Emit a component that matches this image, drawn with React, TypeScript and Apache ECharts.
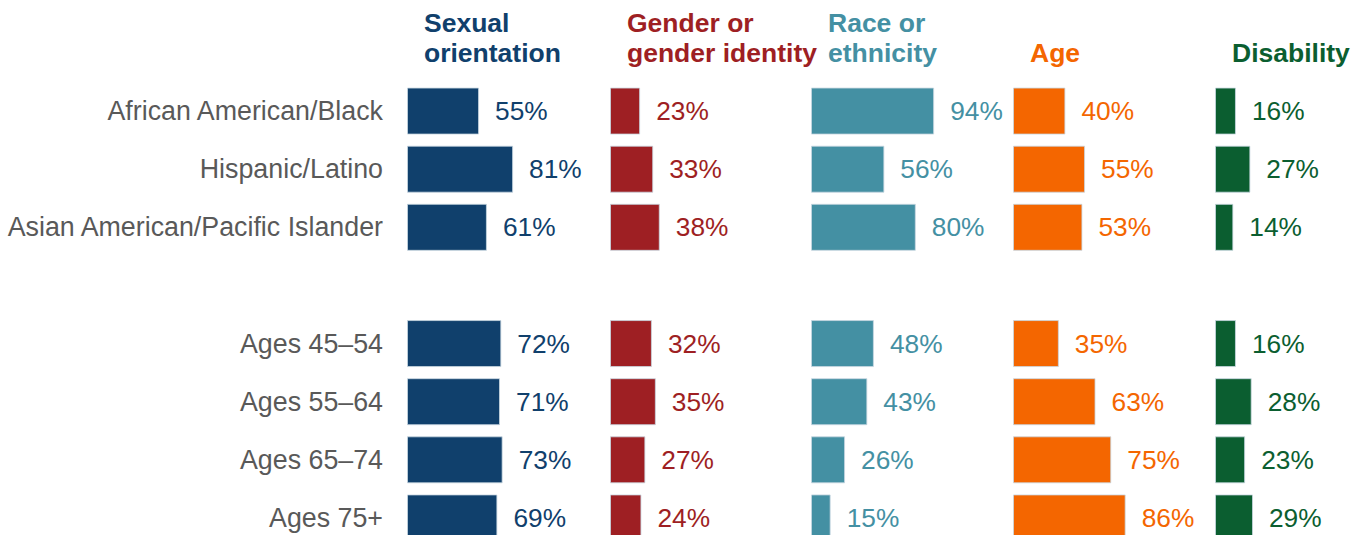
import React, { useEffect, useRef } from "react";
import * as echarts from "echarts";

const categories = [
  "African American/Black",
  "Hispanic/Latino",
  "Asian American/Pacific Islander",
  "",
  "Ages 45–54",
  "Ages 55–64",
  "Ages 65–74",
  "Ages 75+",
];

const panelTitles = ["Sexual\norientation", "Gender or\ngender identity", "Race or\nethnicity", "Age", "Disability"];
const panelColors = ["#10406C", "#9E1F23", "#4490A3", "#F46600", "#0B5E30"];

const sexualOrientation = [55, 81, 61, null, 72, 71, 73, 69];
const genderIdentity = [23, 33, 38, null, 32, 35, 27, 24];
const raceEthnicity = [94, 56, 80, null, 48, 43, 26, 15];
const age = [40, 55, 53, null, 35, 63, 75, 86];
const disability = [16, 27, 14, null, 16, 28, 23, 29];

const panelData = [sexualOrientation, genderIdentity, raceEthnicity, age, disability];

const FONT = 'Arial, "Liberation Sans", sans-serif';

export default function App() {
  const ref = useRef<HTMLDivElement>(null);
  useEffect(() => {
    if (!ref.current) return;
    const chart = echarts.init(ref.current, null, { renderer: "svg" });
    const lefts = [407, 610, 811, 1013, 1215];
    const grids = lefts.map((l) => ({ left: l, top: 82, width: 131, height: 465 }));
    const xAxes = lefts.map((_, i) => ({
      type: "value",
      gridIndex: i,
      min: 0,
      max: 100,
      show: false,
    }));
    const yAxes = lefts.map((_, i) => ({
      type: "category",
      gridIndex: i,
      data: categories,
      inverse: true,
      axisLine: { show: false },
      axisTick: { show: false },
      splitLine: { show: false },
      axisLabel: {
        show: i === 0,
        margin: 24,
        fontSize: 26.8,
        color: "#595959",
        fontFamily: FONT,
      },
    }));
    const series = panelData.map((d, i) => ({
      type: "bar",
      xAxisIndex: i,
      yAxisIndex: i,
      data: d,
      barWidth: 47,
      itemStyle: {
        color: panelColors[i],
        borderColor: "rgba(200,215,225,0.8)",
        borderWidth: 1,
      },
      label: {
        show: true,
        position: "right",
        distance: 16,
        fontSize: 26.3,
        fontFamily: FONT,
        color: panelColors[i],
        formatter: (p: any) => (p.value == null ? "" : p.value + "%"),
      },
    }));
    const graphic = panelTitles.map((t, i) => ({
      type: "text",
      left: lefts[i] + 17,
      top: t.includes("\n") ? 8 : 38,
      style: {
        text: t,
        fill: panelColors[i],
        font: `bold 26.5px ${FONT}`,
        lineHeight: 30,
      },
    }));
    chart.setOption({
      animation: false,
      backgroundColor: "#ffffff",
      grid: grids,
      xAxis: xAxes,
      yAxis: yAxes,
      series,
      graphic,
    });
    return () => chart.dispose();
  }, []);
  return (
    <div style={{ position: "fixed", left: 0, top: 0, width: 1366, height: 535, overflow: "hidden", background: "#fff" }}>
      <div ref={ref} style={{ width: 1366, height: 560 }} />
    </div>
  );
}
